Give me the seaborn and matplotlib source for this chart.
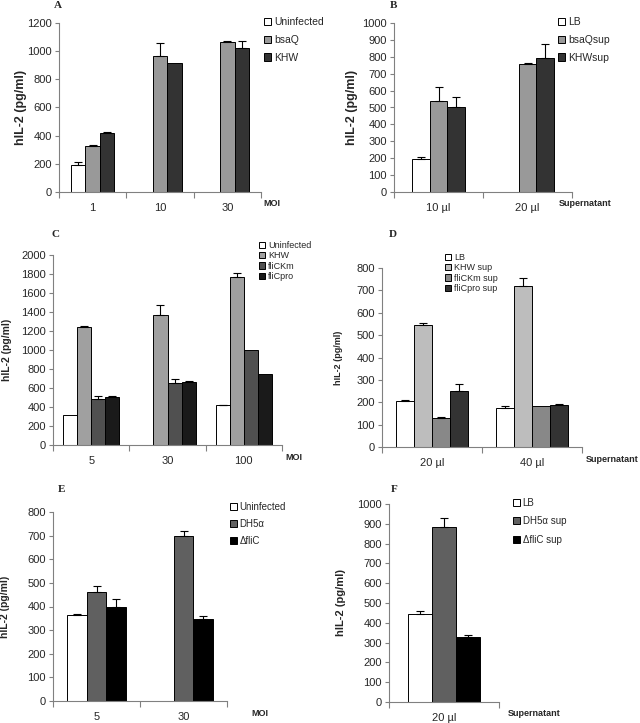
import numpy as np
import pandas as pd
import matplotlib
matplotlib.use("Agg")
import matplotlib.pyplot as plt
import seaborn as sns

sns.set_theme(style="ticks")
plt.rcParams['font.family'] = ['Liberation Sans', 'DejaVu Sans']

# ---- panel A ----
a_groups = ['1', '10', '30']
a_names = ['Uninfected', 'bsaQ', 'KHW']
a_uninf = [195, 0, 0]
a_bsaq = [325, 965, 1065]
a_khw = [420, 918, 1020]
a_uninf_err = [20, 0, 0]
a_bsaq_err = [10, 95, 10]
a_khw_err = [5, 0, 50]

# ---- panel B ----
b_groups = ['10 µl', '20 µl']
b_names = ['LB', 'bsaQsup', 'KHWsup']
b_lb = [195, 0]
b_bsaq = [540, 755]
b_khw = [505, 790]
b_lb_err = [15, 0]
b_bsaq_err = [80, 8]
b_khw_err = [55, 85]

# ---- panel C ----
c_groups = ['5', '30', '100']
c_names = ['Uninfected', 'KHW', 'fliCKm', 'fliCpro']
c_uninf = [320, 4, 420]
c_khw = [1240, 1365, 1770]
c_km = [485, 655, 1000]
c_pro = [510, 665, 745]
c_uninf_err = [0, 0, 5]
c_khw_err = [10, 105, 45]
c_km_err = [30, 40, 0]
c_pro_err = [5, 10, 0]

# ---- panel D ----
d_groups = ['20 µl', '40 µl']
d_names = ['LB', 'KHW sup', 'fliCKm sup', 'fliCpro sup']
d_lb = [205, 175]
d_khw = [545, 720]
d_km = [130, 185]
d_pro = [250, 188]
d_lb_err = [3, 8]
d_khw_err = [10, 35]
d_km_err = [5, 0]
d_pro_err = [30, 3]

# ---- panel E ----
e_groups = ['5', '30']
e_names = ['Uninfected', 'DH5α', 'ΔfliC']
e_uninf = [365, 0]
e_dh5 = [460, 700]
e_dfli = [400, 345]
e_uninf_err = [3, 0]
e_dh5_err = [25, 18]
e_dfli_err = [30, 15]

# ---- panel F ----
f_groups = ['20 µl']
f_names = ['LB', 'DH5α sup', 'ΔfliC sup']
f_lb = [445]
f_dh5 = [885]
f_dfli = [330]
f_lb_err = [15]
f_dh5_err = [45]
f_dfli_err = [10]


def panel(rect, letter, letter_xy, groups, names, vals, errs, colors, width,
          ymax, ystep, xlab, xlab_x, leg_xy, leg_fs, leg_sp, ylab_x, ylab_fs):
    ax = fig.add_axes(rect)
    rows = []
    for n, v in zip(names, vals):
        for g, y in zip(groups, v):
            rows.append({'group': g, 'series': n, 'val': y})
    df = pd.DataFrame(rows)
    sns.barplot(data=df, x='group', y='val', hue='series', order=groups,
                hue_order=names, palette=colors, width=width, errorbar=None,
                edgecolor='black', linewidth=0.7, saturation=1, ax=ax)
    # error bars on top of each patch (patches are hue-major)
    k = 0
    for e in errs:
        for err in e:
            p = ax.patches[k]
            k += 1
            if err > 0:
                xc = p.get_x() + p.get_width() / 2
                ax.errorbar(xc, p.get_height(), yerr=[[0], [err]], fmt='none',
                            ecolor='black', elinewidth=0.8, capsize=3,
                            capthick=0.8)
    n = len(groups)
    ax.set_xlim(-0.5, n - 0.5)
    ax.set_ylim(0, ymax)
    ax.set_yticks(np.arange(0, ymax + 1, ystep))
    ax.set_xticks(range(n))
    ax.set_xticks(np.arange(-0.5, n, 1.0), minor=True)
    ax.tick_params(axis='x', which='major', length=0, labelsize=8, pad=8)
    ax.tick_params(axis='x', which='minor', length=4, color='#808080', width=0.8)
    ax.tick_params(axis='y', length=3, color='#808080', width=0.8, labelsize=8, pad=2)
    for s in ['top', 'right']:
        ax.spines[s].set_visible(False)
    for s in ['left', 'bottom']:
        ax.spines[s].set_color('#808080')
        ax.spines[s].set_linewidth(0.8)
    ax.set_xlabel('')
    ax.set_ylabel('hIL-2 (pg/ml)', fontsize=ylab_fs, fontweight='bold')
    w_px = rect[2] * 640
    ax.yaxis.set_label_coords((ylab_x - rect[0] * 640) / w_px, 0.5)
    # axis title sits beside the last tick label, Excel style
    ax.annotate(xlab, xy=(0, 0), xycoords='axes fraction',
                xytext=(xlab_x - rect[0] * 640, -12), textcoords='offset pixels',
                fontsize=6.5, fontweight='bold', ha='left', va='center')
    fig.text(letter_xy[0] / 640, 1 - letter_xy[1] / 723, letter,
             family=['Liberation Serif'], fontweight='bold', fontsize=8,
             ha='center', va='center')
    sns.move_legend(ax, 'upper left',
                    bbox_to_anchor=(leg_xy[0] / 640, 1 - leg_xy[1] / 723),
                    bbox_transform=fig.transFigure, frameon=False, title=None,
                    fontsize=leg_fs, handlelength=0.7, handleheight=0.7,
                    handletextpad=0.3, labelspacing=leg_sp, borderaxespad=0,
                    borderpad=0)
    return ax


def rect(l, r, t, b):
    return [l / 640, 1 - b / 723, (r - l) / 640, (b - t) / 723]


fig = plt.figure(figsize=(6.4, 7.23), dpi=100)

panel(rect(59, 261, 23, 192), 'A', (58, 6), a_groups, a_names,
      [a_uninf, a_bsaq, a_khw], [a_uninf_err, a_bsaq_err, a_khw_err],
      ['white', '#999999', '#333333'], 0.64, 1200, 200, 'MOI', 263,
      (264, 17), 7.5, 0.75, 27, 9)

panel(rect(394, 572, 23, 192), 'B', (393, 6), b_groups, b_names,
      [b_lb, b_bsaq, b_khw], [b_lb_err, b_bsaq_err, b_khw_err],
      ['white', '#999999', '#333333'], 0.6, 1000, 100, 'Supernatant', 559,
      (558, 17), 7.5, 0.75, 358, 9)

panel(rect(53, 282, 255, 445), 'C', (55, 235), c_groups, c_names,
      [c_uninf, c_khw, c_km, c_pro],
      [c_uninf_err, c_khw_err, c_km_err, c_pro_err],
      ['white', '#a0a0a0', '#505050', '#1a1a1a'], 0.74, 2000, 200, 'MOI', 285,
      (259, 241), 6.5, 0.15, 12, 7.5)

panel(rect(382, 582, 268, 447), 'D', (393, 235), d_groups, d_names,
      [d_lb, d_khw, d_km, d_pro],
      [d_lb_err, d_khw_err, d_km_err, d_pro_err],
      ['white', '#bdbdbd', '#888888', '#333333'], 0.72, 800, 100, 'Supernatant',
      586, (445, 253), 6.5, 0.15, 343, 6.5)

panel(rect(53, 227, 512, 701), 'E', (62, 489), e_groups, e_names,
      [e_uninf, e_dh5, e_dfli], [e_uninf_err, e_dh5_err, e_dfli_err],
      ['white', '#606060', '#000000'], 0.67, 800, 100, 'MOI', 251,
      (230, 502), 7, 0.7, 10, 7.5)

panel(rect(389, 499, 504, 702), 'F', (394, 489), f_groups, f_names,
      [f_lb, f_dh5, f_dfli], [f_lb_err, f_dh5_err, f_dfli_err],
      ['white', '#606060', '#000000'], 0.65, 1000, 100, 'Supernatant', 508,
      (513, 498), 7, 0.85, 346, 8)

fig.savefig('out.png', dpi=100)
